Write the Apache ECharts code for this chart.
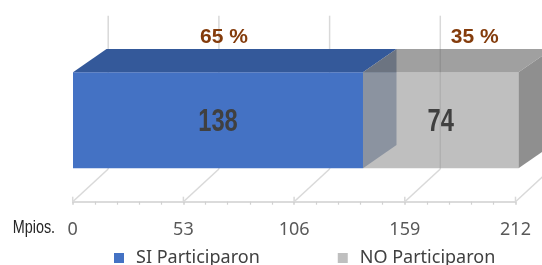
<!DOCTYPE html>
<html>
<head>
<meta charset="utf-8">
<script src="https://cdn.jsdelivr.net/npm/echarts@6/dist/echarts.min.js"></script>
<style>
html,body{margin:0;padding:0;background:#fff;}
#chart{width:542px;height:265px;}
</style>
</head>
<body>
<div id="chart"></div>
<script>
// ---- data ----
const categories = ['SI Participaron', 'NO Participaron'];
const values = [138, 74];
const tickLabels = [0, 53, 106, 159, 212];
const axisTitle = 'Mpios.';

// ---- styles (not data) ----
const faceStyles = [
  { front: '#4472c4', top: '#34599a', end: '#7d91b2', alpha: 1, endAlpha: 1 },
  { front: '#949494', top: '#616161', end: '#8f8f8f', alpha: 0.6, endAlpha: 1 }
];
const pctOffsets = [6, 34];
const legendColors = ['#4472c4', '#bfbfbf'];
const DX = 33.5, DY = -23.3;

const total = values.reduce((a, b) => a + b, 0);
const interval = tickLabels[1] - tickLabels[0];
const axisMax = tickLabels[tickLabels.length - 1];

let cum = 0;
const segments = values.map(v => { const s = cum; cum += v; return [s, cum, v]; });

function makeBarRender(idx) {
  return function (params, api) {
    const s = api.value(0), e = api.value(1), v = api.value(2);
    const p0 = api.coord([s, 1]);
    const p1 = api.coord([e, 0]);
    const x0 = p0[0], y0 = p0[1], x1 = p1[0], y1 = p1[1];
    const st = faceStyles[idx];
    const pct = Math.round(v / total * 100) + ' %';
    return {
      type: 'group',
      children: [
        { type: 'rect', shape: { x: x0, y: y0, width: x1 - x0, height: y1 - y0 },
          style: { fill: st.front, opacity: st.alpha } },
        { type: 'polygon', shape: { points: [[x0, y0], [x1, y0], [x1 + DX, y0 + DY], [x0 + DX, y0 + DY]] },
          style: { fill: st.top, opacity: st.alpha } },
        { type: 'polygon', shape: { points: [[x1, y0], [x1 + DX, y0 + DY], [x1 + DX, y1 + DY], [x1, y1]] },
          style: { fill: st.end, opacity: st.endAlpha } },
        { type: 'text', x: (x0 + x1) / 2, y: (y0 + y1) / 2 + 1.5, scaleX: 0.74,
          style: { text: String(v), font: 'bold 32px "Liberation Sans", Arial, sans-serif',
                   fill: '#404040', textAlign: 'center', textVerticalAlign: 'middle' } },
        { type: 'text', x: (x0 + x1) / 2 + pctOffsets[idx], y: 37, scaleX: 1,
          style: { text: pct, font: 'bold 21px "Liberation Sans", Arial, sans-serif',
                   fill: '#843c0c', textAlign: 'center', textVerticalAlign: 'middle' } }
      ]
    };
  };
}

function renderWall(params, api) {
  const v = api.value(0);
  const p = api.coord([v, 0]);
  const x = p[0], y = p[1];
  const bx = x + 35.5, by = y - 32.7;
  const ls = { stroke: '#d9d9d9', lineWidth: 1.5 };
  return {
    type: 'group',
    children: [
      { type: 'line', shape: { x1: bx, y1: y - 186, x2: bx, y2: by }, style: ls },
      { type: 'line', shape: { x1: bx, y1: by, x2: x, y2: y }, style: ls },
      { type: 'line', shape: { x1: x, y1: y - 5, x2: x, y2: y }, style: ls }
    ]
  };
}

const chart = echarts.init(document.getElementById('chart'), null, { renderer: 'canvas' });

const option = {
  animation: false,
  backgroundColor: '#ffffff',
  grid: [
    { left: 73, right: 23.5, top: 72.3, bottom: 96.7, containLabel: false, outerBoundsMode: 'none' },
    { left: 72.7, right: 26.5, top: 170, bottom: 63.3, containLabel: false, outerBoundsMode: 'none' }
  ],
  xAxis: [
    { type: 'value', gridIndex: 0, min: 0, max: axisMax, interval: interval, show: false },
    { type: 'value', gridIndex: 1, min: 0, max: axisMax, interval: interval,
      axisLine: { show: true, lineStyle: { color: '#d0d0d0', width: 1.5 } },
      axisTick: { show: true, length: 3, lineStyle: { color: '#d0d0d0', width: 1.5 } },
      minorTick: { show: true, splitNumber: 5, length: 3, lineStyle: { color: '#d0d0d0', width: 1.2 } },
      splitLine: { show: false },
      axisLabel: { margin: 19, fontSize: 18, lineHeight: 18, fontFamily: 'Noto Sans', color: '#595959',
        formatter: function (val) { const i = tickLabels.indexOf(val); return i >= 0 ? String(tickLabels[i]) : ''; } }
    }
  ],
  yAxis: [
    { type: 'value', gridIndex: 0, min: 0, max: 1, show: false },
    { type: 'value', gridIndex: 1, min: 0, max: 1, show: false }
  ],
  legend: {
    left: 109, top: 244, padding: 5,
    itemWidth: 10, itemHeight: 10, itemGap: 78,
    icon: 'rect',
    textStyle: { fontFamily: 'Noto Sans', fontSize: 18, lineHeight: 18, color: '#404040', padding: [0, 0, 0, 7] },
    data: categories
  },
  graphic: [
    { type: 'text', x: 12.7, y: 228, scaleX: 0.8,
      style: { text: axisTitle, font: '18px "Liberation Sans", Arial, sans-serif', fill: '#262626',
               textAlign: 'left', textVerticalAlign: 'middle' } }
  ],
  series: [
    { type: 'custom', name: '_wall', xAxisIndex: 1, yAxisIndex: 1, z: 1, silent: true,
      renderItem: renderWall, data: tickLabels.map(t => [t]) },
    { type: 'custom', name: categories[0], xAxisIndex: 0, yAxisIndex: 0, z: 2,
      itemStyle: { color: legendColors[0] },
      renderItem: makeBarRender(0), encode: { x: [0, 1] }, data: [segments[0]] },
    { type: 'custom', name: categories[1], xAxisIndex: 0, yAxisIndex: 0, z: 3,
      itemStyle: { color: legendColors[1] },
      renderItem: makeBarRender(1), encode: { x: [0, 1] }, data: [segments[1]] }
  ]
};
chart.setOption(option);
</script>
</body>
</html>
